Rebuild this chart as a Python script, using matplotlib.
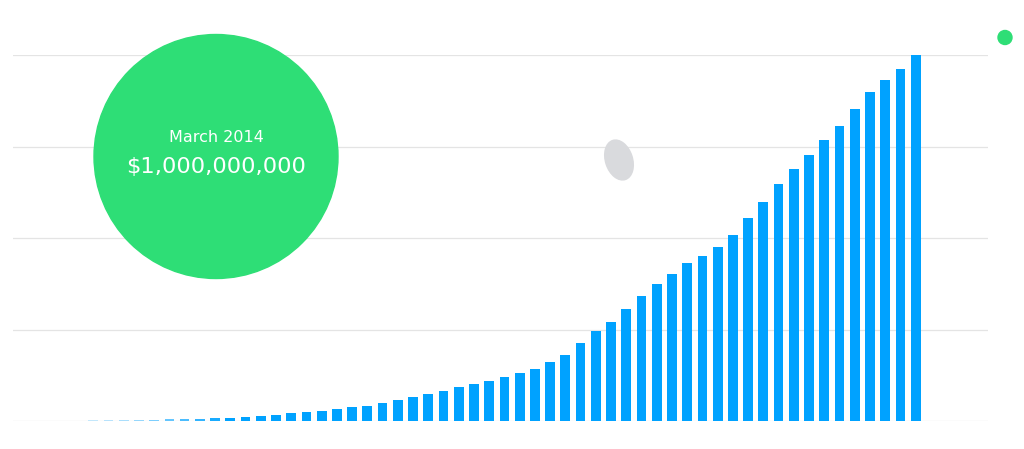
import matplotlib
matplotlib.use("Agg")
import matplotlib.pyplot as plt
from matplotlib.patches import Circle, Ellipse
import numpy as np
import pandas as pd

# ---- data (cumulative pledged, billions of USD) ----
months = [d.strftime("%b %Y") for d in pd.date_range("2009-08-01", "2014-03-01", freq="MS")]
pledged = [0.001, 0.002, 0.0027, 0.003, 0.003, 0.0036, 0.0046, 0.0048, 0.0063, 0.008,
           0.009, 0.011, 0.0145,
           0.0172, 0.021, 0.0246, 0.028, 0.0328, 0.0374, 0.041, 0.049, 0.0566, 0.0648,
           0.0738, 0.082, 0.092, 0.101, 0.109,
           0.119, 0.132, 0.143, 0.160, 0.181, 0.214, 0.245, 0.271, 0.306, 0.342,
           0.373, 0.402, 0.431, 0.452, 0.476, 0.507, 0.555, 0.599, 0.647, 0.689,
           0.728, 0.768, 0.807, 0.853, 0.899, 0.931, 0.962, 1.0]
grid_values = [0, 0.25, 0.5, 0.75, 1.0]
bubble_month = "March 2014"
bubble_amount = "$1,000,000,000"

W, H = 1024, 449
fig = plt.figure(figsize=(W / 100, H / 100), dpi=100)
fig.patch.set_facecolor("white")

# main bar axes, placed in pixel terms
left, right, top, base = 13, 988, 55, 421
ax = fig.add_axes([left / W, (H - base) / H, (right - left) / W, (base - top) / H])
x = np.arange(len(months))
bar_color = "#00a2ff"
bars = ax.bar(x, pledged, width=0.64, color=bar_color, zorder=3)
fade = [0.18, 0.22, 0.27, 0.32, 0.4, 0.5, 0.6, 0.7, 0.8, 0.9]
for i, b in enumerate(bars):
    if i < len(fade):
        b.set_alpha(fade[i])

step = 15.23
ax.set_xlim((left - 78) / step, (right - 78) / step)
ax.set_ylim(0, 1.0)
ax.set_yticks(grid_values)
ax.set_xticks([])
ax.tick_params(left=False, labelleft=False, bottom=False, labelbottom=False)
ax.grid(axis="y", color="#e4e4e4", linewidth=0.9, zorder=0)
ax.set_axisbelow(True)
for s in ax.spines.values():
    s.set_visible(False)
ax.patch.set_alpha(0)

# overlay in pixel coordinates
ov = fig.add_axes([0, 0, 1, 1])
ov.set_xlim(0, W)
ov.set_ylim(H, 0)
ov.axis("off")
ov.patch.set_alpha(0)

green = "#2ede76"
ov.add_patch(Circle((216, 156.5), 122, color=green, zorder=5))
ov.add_patch(Ellipse((619, 160), 27, 41, angle=-18, color="#d9dadd", zorder=5))
ov.add_patch(Circle((1005, 37.5), 7, color=green, zorder=5))

ov.text(216, 137.5, bubble_month, color="white", fontsize=11.5,
        family="DejaVu Sans", ha="center", va="center", zorder=6)
ov.text(216, 167, bubble_amount, color="white", fontsize=16.2,
        family="DejaVu Sans", ha="center", va="center", zorder=6)

fig.savefig("out.png", dpi=100, facecolor="white")
